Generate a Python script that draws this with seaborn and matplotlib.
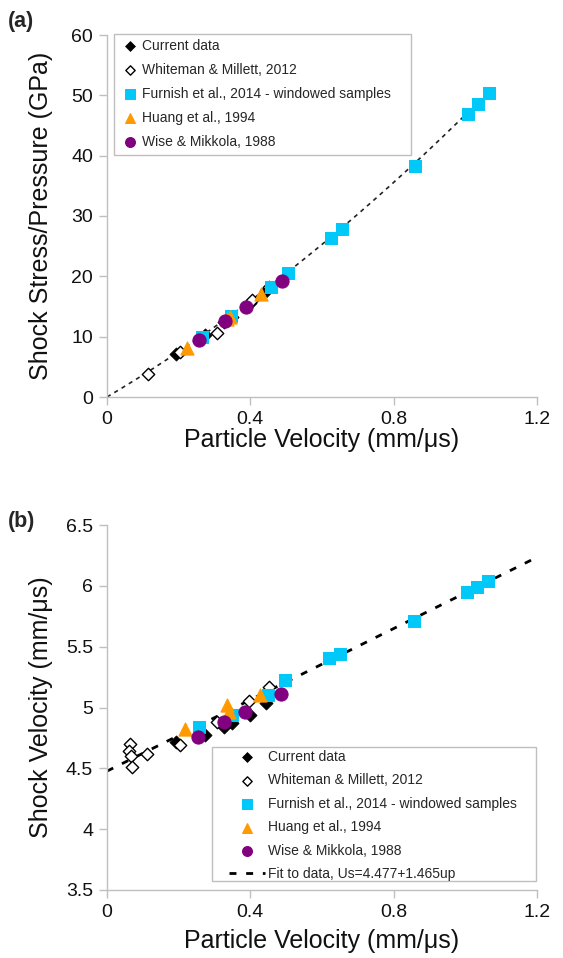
import numpy as np
import pandas as pd
import matplotlib
matplotlib.use("Agg")
import matplotlib.pyplot as plt
from matplotlib.patches import Rectangle
import seaborn as sns

sns.set_theme(style="white")
plt.rcParams['font.family'] = ['Liberation Sans', 'DejaVu Sans']

# ---------------- data ----------------
# Panel (a): particle velocity (mm/us) vs shock stress (GPa)
cur_up_a = [0.193, 0.273, 0.326, 0.348, 0.400, 0.443]
cur_p_a = [7.2, 10.2, 12.4, 13.3, 15.5, 17.5]
wm_up_a = [0.115, 0.204, 0.306, 0.404, 0.453]
wm_p_a = [3.8, 7.5, 10.6, 16.0, 18.2]
fur_up_a = [0.264, 0.347, 0.457, 0.505, 0.624, 0.655, 0.859, 1.008, 1.036, 1.066]
fur_p_a = [10.0, 13.4, 18.2, 20.5, 26.4, 27.8, 38.3, 46.9, 48.5, 50.4]
hu_up_a = [0.222, 0.335, 0.343, 0.430]
hu_p_a = [8.1, 13.0, 13.2, 17.0]
wi_up_a = [0.256, 0.330, 0.387, 0.488]
wi_p_a = [9.4, 12.6, 14.9, 19.3]

# Panel (b): particle velocity (mm/us) vs shock velocity (mm/us)
cur_up_b = [0.193, 0.273, 0.326, 0.348, 0.400, 0.443]
cur_us_b = [4.72, 4.77, 4.84, 4.87, 4.94, 5.04]
wm_up_b = [0.064, 0.060, 0.066, 0.069, 0.113, 0.204, 0.306, 0.395, 0.453]
wm_us_b = [4.70, 4.64, 4.60, 4.51, 4.62, 4.69, 4.88, 5.05, 5.17]
fur_up_b = [0.258, 0.350, 0.450, 0.498, 0.620, 0.650, 0.856, 1.005, 1.033, 1.064]
fur_us_b = [4.84, 4.94, 5.10, 5.23, 5.41, 5.44, 5.71, 5.95, 5.99, 6.04]
hu_up_b = [0.218, 0.334, 0.340, 0.427]
hu_us_b = [4.82, 5.02, 4.96, 5.10]
wi_up_b = [0.255, 0.326, 0.384, 0.485]
wi_us_b = [4.76, 4.88, 4.96, 5.11]

# Linear Us-up fit quoted in the legend, and initial density (g/cc)
fit_c0 = 4.477
fit_s = 1.465
rho0 = 7.87

series_names = ["Current data", "Whiteman & Millett, 2012",
                "Furnish et al., 2014 - windowed samples",
                "Huang et al., 1994", "Wise & Mikkola, 1988"]
fit_label = "Fit to data, Us=4.477+1.465up"

x_ticks = [0, 0.4, 0.8, 1.2]
x_ticklabels = ["0", "0.4", "0.8", "1.2"]
ya_ticks = [0, 10, 20, 30, 40, 50, 60]
yb_ticks = [3.5, 4, 4.5, 5, 5.5, 6, 6.5]
yb_ticklabels = ["3.5", "4", "4.5", "5", "5.5", "6", "6.5"]

# ---------------- styling ----------------
styles = [
    dict(marker="D", color="black", edgecolor="black", s=45),
    dict(marker="D", color="white", edgecolor="black", s=40, linewidth=1.0),
    dict(marker="s", color="#00C8F8", edgecolor="#00C8F8", s=85),
    dict(marker="^", color="#FF9900", edgecolor="#FF9900", s=90),
    dict(marker="o", color="#800080", edgecolor="#800080", s=90),
]
W, H = 563, 958
fig = plt.figure(figsize=(W / 100, H / 100), dpi=100)
ax1 = fig.add_axes([107 / W, 1 - 397 / H, 430 / W, 362 / H])
ax2 = fig.add_axes([107 / W, 1 - 890 / H, 430 / W, 365 / H])

grey = "#BFBFBF"
LABEL_FS = 18
TICK_FS = 14
LEG_FS = 10


def style_axes(ax):
    for sp in ["top", "right"]:
        ax.spines[sp].set_visible(False)
    for sp in ["left", "bottom"]:
        ax.spines[sp].set_color(grey)
        ax.spines[sp].set_linewidth(1.0)
    ax.tick_params(axis="both", which="major", direction="out", length=6,
                   width=1, color=grey, labelsize=TICK_FS, labelcolor="#111111",
                   pad=4, left=True, bottom=True)
    ax.set_xlim(0, 1.2)
    ax.set_xticks(x_ticks)
    ax.set_xticklabels(x_ticklabels)
    ax.set_xlabel("Particle Velocity (mm/μs)", fontsize=LABEL_FS,
                  color="#111111")


def legend_frame(ax, x0, y0, x1, y1):
    r = Rectangle((x0 / W, 1 - y1 / H), (x1 - x0) / W, (y1 - y0) / H,
                  transform=fig.transFigure, facecolor="white",
                  edgecolor=grey, linewidth=1.0, zorder=4.5, clip_on=False)
    ax.add_artist(r)


# Panel a
data_a = [(cur_up_a, cur_p_a), (wm_up_a, wm_p_a), (fur_up_a, fur_p_a),
          (hu_up_a, hu_p_a), (wi_up_a, wi_p_a)]
up_fit_a = np.linspace(0, 1.07, 200)
pfit_a = rho0 * (fit_c0 + fit_s * up_fit_a) * up_fit_a
sns.lineplot(x=up_fit_a, y=pfit_a, ax=ax1, color="#222222", lw=1.2,
             linestyle=(0, (2.5, 2.6)), zorder=1)
z = 2
for (xs, ys), name, st in zip(data_a, series_names, styles):
    sns.scatterplot(x=xs, y=ys, ax=ax1, label=name, zorder=z, **st)
    z += 1
style_axes(ax1)
ax1.set_ylim(0, 60)
ax1.set_yticks(ya_ticks)
ax1.set_ylabel("Shock Stress/Pressure (GPa)", fontsize=LABEL_FS,
               color="#111111")
ax1.yaxis.set_label_coords((53 - 107) / 430, 0.5)
ax1.xaxis.set_label_coords(0.5, (397 - 428) / 362)
legend_frame(ax1, 114, 34, 411, 155)
leg1 = ax1.legend(loc="upper left", bbox_to_anchor=(0.0279, 0.989),
                  borderaxespad=0, fontsize=LEG_FS, frameon=False,
                  labelspacing=0.72, handletextpad=0.05, borderpad=0,
                  handlelength=1.6, markerscale=0.75)
leg1.set_zorder(6)

# Panel b
data_b = [(cur_up_b, cur_us_b), (wm_up_b, wm_us_b), (fur_up_b, fur_us_b),
          (hu_up_b, hu_us_b), (wi_up_b, wi_us_b)]
z = 2
for (xs, ys), name, st in zip(data_b, series_names, styles):
    sns.scatterplot(x=xs, y=ys, ax=ax2, label=name, zorder=z, **st)
    z += 1
up_fit_b = np.linspace(0, 1.2, 200)
sns.lineplot(x=up_fit_b, y=fit_c0 + fit_s * up_fit_b, ax=ax2, color="black",
             lw=2.0, linestyle=(0, (2.5, 3.5)), zorder=1, label=fit_label)
style_axes(ax2)
ax2.set_ylim(3.5, 6.5)
ax2.set_yticks(yb_ticks)
ax2.set_yticklabels(yb_ticklabels)
ax2.set_ylabel("Shock Velocity (mm/μs)", fontsize=LABEL_FS, color="#111111")
ax2.yaxis.set_label_coords((53 - 107) / 430, 0.5)
ax2.xaxis.set_label_coords(0.5, (890 - 929) / 365)
legend_frame(ax2, 212, 747, 536, 881)
leg2 = ax2.legend(loc="upper left", bbox_to_anchor=(0.2837, 0.3836),
                  borderaxespad=0, fontsize=LEG_FS, frameon=False,
                  labelspacing=0.68, handletextpad=0.2, borderpad=0,
                  handlelength=2.6, markerscale=0.75)
leg2.set_zorder(6)

fig.text(8 / W, 1 - 22 / H, "(a)", fontsize=15.5, fontweight="bold",
         va="center", ha="left")
fig.text(8 / W, 1 - 521 / H, "(b)", fontsize=15.5, fontweight="bold",
         va="center", ha="left")

fig.savefig("out.png", dpi=100, facecolor="white")
